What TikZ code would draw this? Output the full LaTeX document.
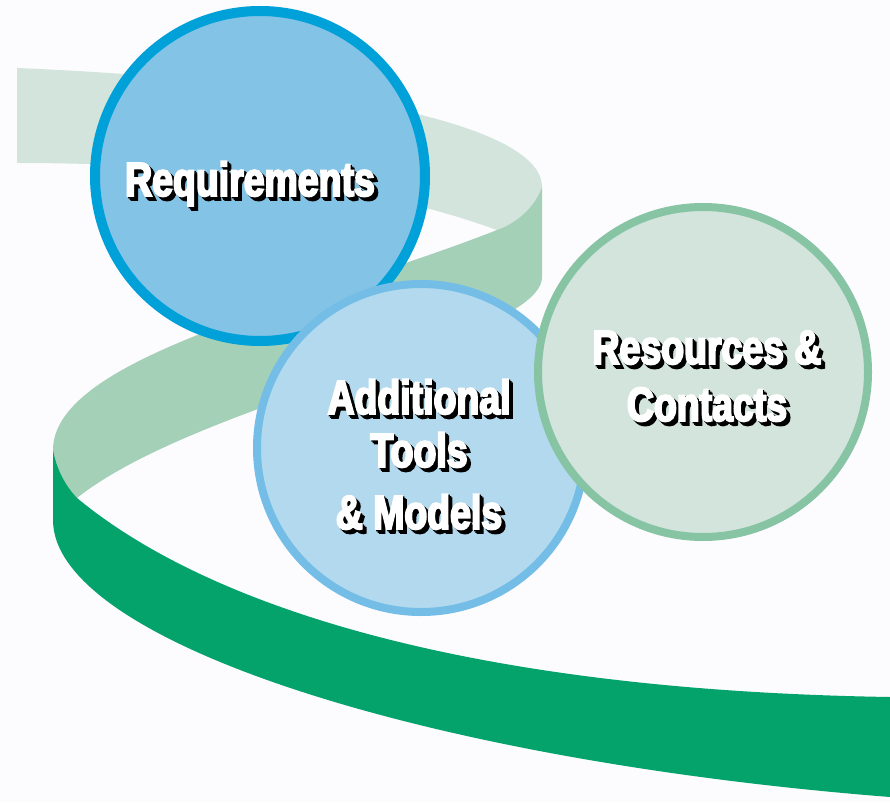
\documentclass[tikz,border=0pt]{standalone}
\usepackage{fontspec}
\newfontfamily\lblfont[FakeStretch=0.78,FakeBold=4]{Liberation Sans}

\definecolor{bgcol}{HTML}{FCFBFE}
\definecolor{bandlight}{HTML}{D2E4DC}
\definecolor{bandmid}{HTML}{A5D0B8}
\definecolor{banddark}{HTML}{03A36B}
\definecolor{reqfill}{HTML}{82C3E6}
\definecolor{reqline}{HTML}{00A0D8}
\definecolor{toolfill}{HTML}{B3D9EE}
\definecolor{toolline}{HTML}{74BDE6}
\definecolor{resfill}{HTML}{D2E4DC}
\definecolor{resline}{HTML}{87C4A4}

% white letters with a black drop shadow
\newcommand\shadowed[1]{%
  \makebox[0pt][l]{\color{black}\kern1.4pt\raisebox{-1.4pt}{#1}}%
  \makebox[0pt][l]{\color{black}\kern2.8pt\raisebox{-2.8pt}{#1}}%
  \makebox[0pt][l]{\color{black}\kern4pt\raisebox{-4pt}{#1}}%
  #1}

\begin{document}
\begin{tikzpicture}[
  x=1pt, y=-1pt,
  ball/.style={circle, minimum size=330pt, inner sep=0pt, line width=8pt},
  lbl/.style={text=white, font=\lblfont\bfseries\fontsize{48}{57}\selectfont, align=center, anchor=base}
]
\fill[bgcol] (0,0) rectangle (890,802);
\useasboundingbox (0,0) rectangle (890,802);

% ribbon
\fill[bandlight] (17,68) .. controls (300,80) and (542,120) .. (542,187)
  .. controls (535,207) and (517,223) .. (497,230)
  .. controls (400,195) and (250,163) .. (17,163) -- cycle;
\fill[bandmid] (497,230) .. controls (320,300) and (53,355) .. (53,450)
  .. controls (57,470) and (65,485) .. (77,498)
  .. controls (200,400) and (542,340) .. (542,277)
  -- (542,187) .. controls (535,207) and (517,223) .. (497,230) -- cycle;
\fill[banddark] (53,450) -- (53,520) .. controls (53,640) and (420,760) .. (890,797)
  -- (890,697) .. controls (450,690) and (200,600) .. (77,498)
  .. controls (65,485) and (57,470) .. (53,450) -- cycle;

% circles
\node[ball, fill=reqfill, draw=reqline, line width=10pt] (req) at (260,176) {};
\node[ball, fill=toolfill, draw=toolline, minimum size=328pt] (tools) at (421,448) {};
\node[ball, fill=resfill, draw=resline] (res) at (703,372) {};

% labels (base = last line)
\node[lbl] (reqtext) at (250,196) {\shadowed{Requirements}};
\node[lbl] (toolstext) at (419,529) {\shadowed{Additional}\\[-4pt]\shadowed{Tools}\\[5pt]\shadowed{\& Models}};
\node[lbl] (restext) at (707,421) {\shadowed{Resources \&}\\\shadowed{Contacts}};
\end{tikzpicture}
\end{document}
